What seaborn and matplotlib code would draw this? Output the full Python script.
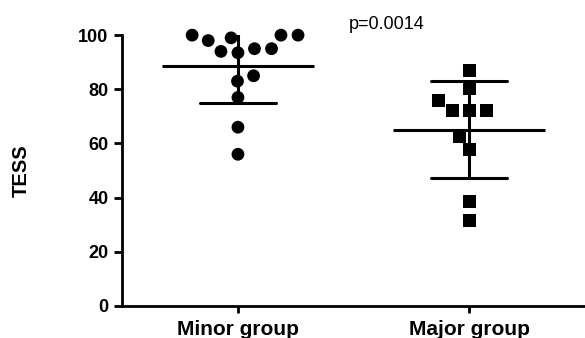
import numpy as np
import pandas as pd
import matplotlib
matplotlib.use("Agg")
import matplotlib.pyplot as plt
import seaborn as sns
from matplotlib.markers import MarkerStyle

groups = ["Minor group", "Major group"]
minor_tess = [56, 66, 77, 83, 85, 93.5, 94, 95, 95, 98, 99, 100, 100, 100]
major_tess = [31.4, 38.5, 57.8, 62.7, 72.3, 72.3, 72.3, 76, 80.3, 87]
y_ticks = [0, 20, 40, 60, 80, 100]
p_text = "p=0.0014"
y_label = "TESS"

df = pd.DataFrame({
    "group": [groups[0]] * len(minor_tess) + [groups[1]] * len(major_tess),
    "TESS": minor_tess + major_tess,
})

sns.set_theme(style="ticks")
plt.rcParams["font.family"] = ["Liberation Sans", "DejaVu Sans"]
plt.rcParams.update({
    "text.color": "black",
    "axes.labelcolor": "black",
    "xtick.color": "black",
    "ytick.color": "black",
    "axes.edgecolor": "black",
})

fig = plt.figure(figsize=(5.85, 3.38), dpi=100)
ax = fig.add_axes([0.209, 0.095, 0.791, 0.801])

sns.swarmplot(data=df, x="group", y="TESS", hue="group", order=groups,
              palette={groups[0]: "black", groups[1]: "black"},
              size=9.2, ax=ax, legend=False, linewidth=2.5, edgecolor="none")
markers = ["o", "s"]
for coll, m in zip(ax.collections, markers):
    ms = MarkerStyle(m)
    path = ms.get_path().transformed(ms.get_transform())
    coll.set_paths([path])
    coll.set_clip_on(False)
    coll.set_zorder(3)

sns.pointplot(data=df, x="group", y="TESS", order=groups, errorbar="sd",
              capsize=0.33, linestyle="none", marker="_", markersize=110,
              markeredgewidth=2.2, color="black", err_kws={"linewidth": 2.2},
              ax=ax, zorder=4)

ax.set_ylim(0, 100)
ax.set_xlim(-0.5, 1.5)
ax.set_yticks(y_ticks)
ax.set_xlabel("")
ax.set_ylabel(y_label, fontsize=14.5, fontweight="bold", labelpad=34,
              color="black")
ax.tick_params(axis="y", labelsize=13, width=2, length=6, pad=4,
               colors="black")
ax.tick_params(axis="x", labelsize=15, width=2, length=5, pad=5,
               colors="black")
for lab in ax.get_xticklabels() + ax.get_yticklabels():
    lab.set_fontweight("bold")
for s in ["left", "bottom"]:
    ax.spines[s].set_linewidth(2)
    ax.spines[s].set_color("black")
sns.despine(ax=ax)

ax.text(0.5 + (388 - 355) / 230, 104, p_text, fontsize=13, ha="center",
        va="center", transform=ax.transData, clip_on=False, color="black")

fig.savefig("out.png", dpi=100)
